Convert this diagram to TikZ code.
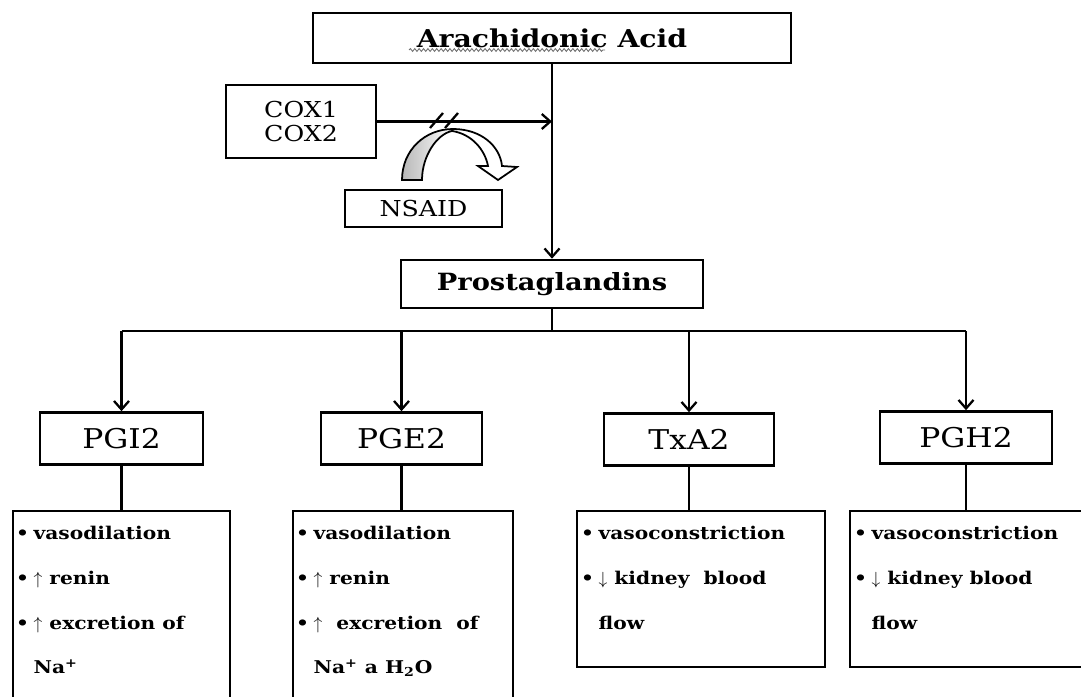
\documentclass[tikz,border=0pt]{standalone}
\usepackage{fontspec}
\setmainfont{DejaVu Serif}[FakeStretch=1.15]
\usetikzlibrary{arrows.meta,positioning,calc,decorations.pathmorphing}
\definecolor{bandgray}{HTML}{B8B8B8}
\definecolor{wavegray}{HTML}{707070}
\newcommand{\itm}{\makebox[10pt][l]{\textbullet}}
\newcommand{\itmgap}{\hspace*{10pt}}

\begin{document}
\begin{tikzpicture}[
  x=0.02cm, y=-0.02cm,
  box/.style={draw, line width=1.5pt, inner sep=0pt},
  pgbox/.style={box, minimum height=1.04cm, font=\fontsize{15.5}{18}\selectfont},
  infobox/.style={box},
  infotext/.style={anchor=north west, inner sep=0pt, align=left,
                   font=\fontsize{10}{25.5}\selectfont\bfseries},
  link/.style={line width=1.3pt},
  arr/.style={link, -{Straight Barb[length=1.7mm,width=3mm]}},
]
\useasboundingbox (0,0) rectangle (1081,696);
\clip (0,0) rectangle (1081,696);

% top of the pathway
\node[box, minimum width=9.56cm, minimum height=1.0cm,
      font=\fontsize{14}{16}\selectfont\bfseries] (acid) at (552,38) {Arachidonic Acid};
\draw[wavegray, line width=0.5pt, decorate,
      decoration={snake, amplitude=0.8pt, segment length=2.5pt}]
  ([shift={(-143,12)}]acid.center) -- ([shift={(53,12)}]acid.center);

\node[box, minimum width=3.0cm, minimum height=1.46cm, align=center,
      font=\fontsize{12.5}{13.5}\selectfont] (cox) at (301,121.5) {COX1\\COX2};
\node[box, minimum width=3.14cm, minimum height=0.74cm,
      font=\fontsize{12.5}{14}\selectfont] (nsaid) at (423.5,208.5) {NSAID};
\node[box, minimum width=6.04cm, minimum height=0.96cm,
      font=\fontsize{13.5}{16}\selectfont\bfseries] (prost) at (552,284) {Prostaglandins};

\coordinate (cut) at (acid.south |- cox.east);
\draw[arr] (acid.south) -- (acid.south |- prost.north);
\draw[arr] (cox.east) -- (cut);

% inhibition mark and curved block arrow
\draw[link] (430,128) -- (443,113);
\draw[link] (445,128) -- (458,113);
\path[draw, line width=1pt, left color=bandgray, right color=white]
  (402,180) .. controls (402,150) and (425,129) .. (453,129)
  -- (452,131) .. controls (437,134) and (422,156) .. (422,180) -- cycle;
\path[draw, line width=1pt, fill=white]
  (453,129) .. controls (481,129) and (500,146) .. (502,166)
  -- (517,167) -- (498,180) -- (478,166) -- (488,166)
  .. controls (485,150) and (472,134) .. (452,131) -- cycle;

% the four prostanoids
\node[pgbox, minimum width=3.26cm] (pgi) at (121.5,438.5) {PGI2};
\node[pgbox, minimum width=3.22cm] (pge) at (401.5,438.5) {PGE2};
\node[pgbox, minimum width=3.40cm] (txa) at (689,439.5) {TxA2};
\node[pgbox, minimum width=3.44cm] (pgh) at (966,437.5) {PGH2};

\coordinate (bus) at (acid.south |- 0,331);
\draw[link] (prost.south) -- (bus);
\draw[link] (bus -| pgi.north) -- (bus -| pgh.north);
\foreach \b in {pgi,pge,txa,pgh}
  \draw[arr] (bus -| \b.north) -- (\b.north);

% effects
\node[infobox, minimum width=4.34cm, minimum height=4.18cm] (infoi) at (121.5,615.5) {};
\node[infobox, minimum width=4.40cm, minimum height=4.18cm] (infoe) at (403,615.5) {};
\node[infobox, minimum width=4.96cm, minimum height=3.12cm] (infot) at (701,589) {};
\node[infobox, minimum width=5.00cm, minimum height=3.12cm] (infoh) at (975,589) {};

\foreach \a/\b in {pgi/infoi, pge/infoe, txa/infot, pgh/infoh}
  \draw[link] (\a.south) -- (\a.south |- \b.north);

\node[infotext] (texti) at ([shift={(4,16)}]infoi.north west)
  {\itm vasodilation\\ \itm $\uparrow$ renin\\ \itm $\uparrow$ excretion of\\ \itmgap Na\textsuperscript{+}};
\node[infotext] (texte) at ([shift={(4,16)}]infoe.north west)
  {\itm vasodilation\\ \itm $\uparrow$ renin\\ \itm $\uparrow$\ \ excretion\ \ of\\ \itmgap Na\textsuperscript{+} a H\textsubscript{2}O};
\node[infotext] (textt) at ([shift={(5,16)}]infot.north west)
  {\itm vasoconstriction\\ \itm $\downarrow$ kidney\ \ blood\\ \itmgap flow};
\node[infotext] (texth) at ([shift={(5,16)}]infoh.north west)
  {\itm vasoconstriction\\ \itm $\downarrow$ kidney blood\\ \itmgap flow};

\end{tikzpicture}
\end{document}
